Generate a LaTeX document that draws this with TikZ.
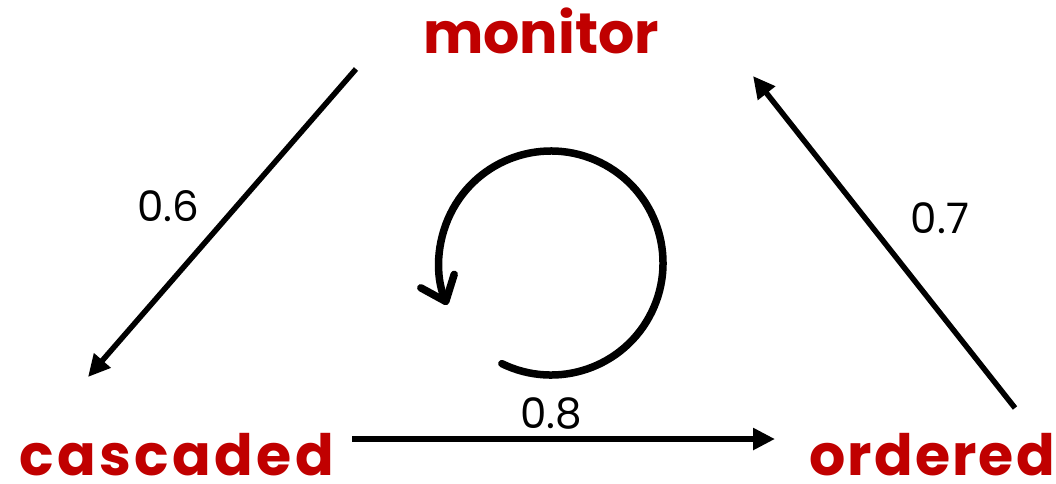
\documentclass[tikz,border=0pt]{standalone}
\usepackage{fontspec}
\setmainfont{Poppins}
\usetikzlibrary{arrows.meta}
\definecolor{labred}{HTML}{C00000}
\tikzset{
  state/.style={text=labred, font=\bfseries\fontsize{57}{60}\selectfont, inner sep=0pt, text depth=0pt, anchor=base west},
  prob/.style={font=\fontsize{42}{46}\selectfont, inner sep=0pt},
  trans/.style={line width=5.5pt, -{Triangle[length=22pt,width=21pt]}},
}
\begin{document}
\begin{tikzpicture}[x=1pt,y=-1pt]
\useasboundingbox (0,0) rectangle (1056,483);
\node[state] (mon) at (423,53) {monitor};
\node[state] (cas) at (19,475) {\addfontfeature{LetterSpace=6}cascaded};
\node[state] (ord) at (809,475) {\addfontfeature{LetterSpace=3.8}ordered};
\coordinate (m1) at (356,69);
\coordinate (c1) at (88,377);
\coordinate (o1) at (1015,408);
\coordinate (m2) at (753,76);
\coordinate (c2) at (352,439);
\coordinate (o2) at (775,439);
\draw[trans] (m1) -- (c1);
\draw[trans] (o1) -- (m2);
\draw[trans] (c2) -- (o2);
\node[prob] (p6) at (168,206) {0.6};
\node[prob] (p7) at (940,218) {0.7};
\node[prob] (p8) at (551,413) {0.8};
\coordinate (cc) at (551,263);
\draw[line width=7.5pt, line cap=round, -{Straight Barb[length=22pt,width=36pt,round]}]
  ([shift={(116:112)}]cc) arc[start angle=116, end angle=-202, radius=112];
\end{tikzpicture}
\end{document}
